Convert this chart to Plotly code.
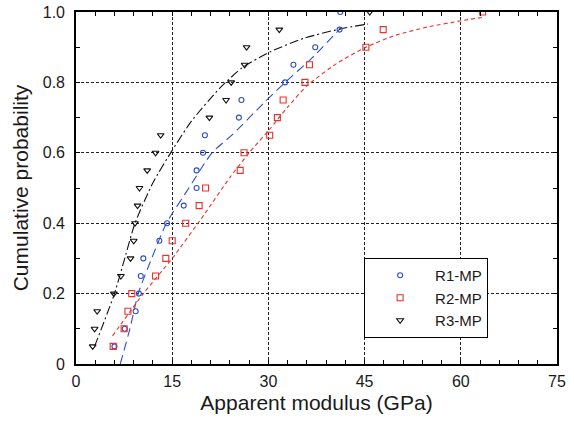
import plotly.graph_objects as go

# Empirical cumulative probabilities (20 specimens each)
prob = [0.05, 0.10, 0.15, 0.20, 0.25, 0.30, 0.35, 0.40, 0.45, 0.50,
        0.55, 0.60, 0.65, 0.70, 0.75, 0.80, 0.85, 0.90, 0.95, 1.00]

r1_mod = [6.0, 7.6, 9.3, 9.8, 10.1, 10.5, 13.0, 14.2, 16.8, 18.8,
          18.8, 19.8, 20.1, 25.4, 25.8, 32.6, 33.9, 37.3, 41.1, 41.2]
r2_mod = [5.8, 7.5, 8.1, 8.7, 12.4, 14.0, 15.0, 17.1, 19.2, 20.2,
          25.6, 26.2, 30.2, 31.4, 32.3, 35.7, 36.4, 45.2, 47.9, 63.4]
r3_mod = [2.6, 2.9, 3.3, 5.9, 7.0, 8.5, 9.0, 9.2, 9.6, 9.9,
          11.1, 12.4, 13.2, 20.8, 23.4, 24.2, 26.3, 26.6, 31.7, 45.8]

# Fitted distribution curves
r1_fit_x = [6.9, 8.4, 9.7, 11.8, 14.1, 17.6, 21.2, 24.3, 29.2, 32.6, 36.5, 41.2]
r1_fit_y = [0.0, 0.10, 0.20, 0.30, 0.40, 0.50, 0.60, 0.65, 0.74, 0.80, 0.864, 0.953]

r2_fit_x = [5.7, 10.5, 15.0, 20.0, 24.0, 27.0, 30.2, 33.0, 36.0, 40.5, 45.2, 50.0, 55.0, 60.0, 63.5]
r2_fit_y = [0.08, 0.20, 0.30, 0.425, 0.53, 0.60, 0.667, 0.73, 0.79, 0.852, 0.90, 0.935, 0.958, 0.975, 0.985]

r3_fit_x = [2.9, 6.0, 7.6, 9.2, 12.0, 15.0, 18.0, 22.5, 26.0, 30.3, 35.5, 41.2, 45.5]
r3_fit_y = [0.05, 0.20, 0.30, 0.40, 0.515, 0.607, 0.69, 0.785, 0.843, 0.887, 0.925, 0.952, 0.966]

series_names = ["R1-MP", "R2-MP", "R3-MP"]
x_ticks = [0, 15, 30, 45, 60, 75]
y_ticks = [0, 0.2, 0.4, 0.6, 0.8, 1.0]
y_tick_text = ["0", "0.2", "0.4", "0.6", "0.8", "1.0"]

BLUE = "#2f4fc2"
RED = "#e8322c"
BLACK = "#111111"

fig = go.Figure()

# fitted curves
fig.add_trace(go.Scatter(x=r1_fit_x, y=r1_fit_y, mode="lines", line_shape="spline",
                         line=dict(color=BLUE, width=1.1, dash="9px,5px", smoothing=0.6), showlegend=False))
fig.add_trace(go.Scatter(x=r2_fit_x, y=r2_fit_y, mode="lines", line_shape="spline",
                         line=dict(color=RED, width=1.1, dash="4px,3px", smoothing=0.6), showlegend=False))
fig.add_trace(go.Scatter(x=r3_fit_x, y=r3_fit_y, mode="lines", line_shape="spline",
                         line=dict(color=BLACK, width=1.1, dash="9px,3px,2px,3px", smoothing=0.6), showlegend=False))

# data points
fig.add_trace(go.Scatter(x=r1_mod, y=prob, mode="markers", name=series_names[0],
                         marker=dict(symbol="circle-open", size=5, color=BLUE, line=dict(width=1.1))))
fig.add_trace(go.Scatter(x=r2_mod, y=prob, mode="markers", name=series_names[1],
                         marker=dict(symbol="square-open", size=6, color=RED, line=dict(width=1.1))))
fig.add_trace(go.Scatter(x=r3_mod, y=prob, mode="markers", name=series_names[2],
                         marker=dict(symbol="triangle-down-open", size=6, color=BLACK, line=dict(width=1.1))))

axis_font = dict(family="Liberation Sans, Arial, sans-serif", size=16, color="#1a1a1a")
title_font = dict(family="Liberation Sans, Arial, sans-serif", size=21, color="#1a1a1a")

fig.update_xaxes(range=[0, 75], tickvals=x_ticks, showgrid=True, gridcolor="#222",
                 griddash="3px,2px", gridwidth=1, zeroline=False, automargin=False,
                 showline=True, linecolor="black", linewidth=1.6, mirror="allticks",
                 ticks="inside", ticklen=4, tickcolor="black",
                 minor=dict(dtick=3, ticks="inside", ticklen=4, tickcolor="black", showgrid=False),
                 tickfont=axis_font, ticklabelstandoff=2,
                 title=dict(text="Apparent modulus (GPa)", font=title_font, standoff=6))
fig.update_yaxes(range=[0, 1], tickvals=y_ticks, ticktext=y_tick_text, showgrid=True, gridcolor="#222",
                 griddash="3px,2px", gridwidth=1, zeroline=False, automargin=False,
                 showline=True, linecolor="black", linewidth=1.6, mirror="allticks",
                 ticks="inside", ticklen=4, tickcolor="black",
                 minor=dict(dtick=0.1, ticks="inside", ticklen=4, tickcolor="black", showgrid=False),
                 tickfont=axis_font, ticklabelstandoff=6,
                 title=dict(text="Cumulative probability", font=title_font, standoff=8))

fig.update_layout(
    width=574, height=425,
    margin=dict(l=76, r=17, t=12, b=61, autoexpand=False),
    paper_bgcolor="white", plot_bgcolor="white",
    legend=dict(x=0.599, y=0.301, xanchor="left", yanchor="top",
                bordercolor="black", borderwidth=1, bgcolor="white",
                font=dict(family="Liberation Sans, Arial, sans-serif", size=15, color="#1a1a1a"),
                itemwidth=60, tracegroupgap=0),
)

fig.write_html("out.html")
